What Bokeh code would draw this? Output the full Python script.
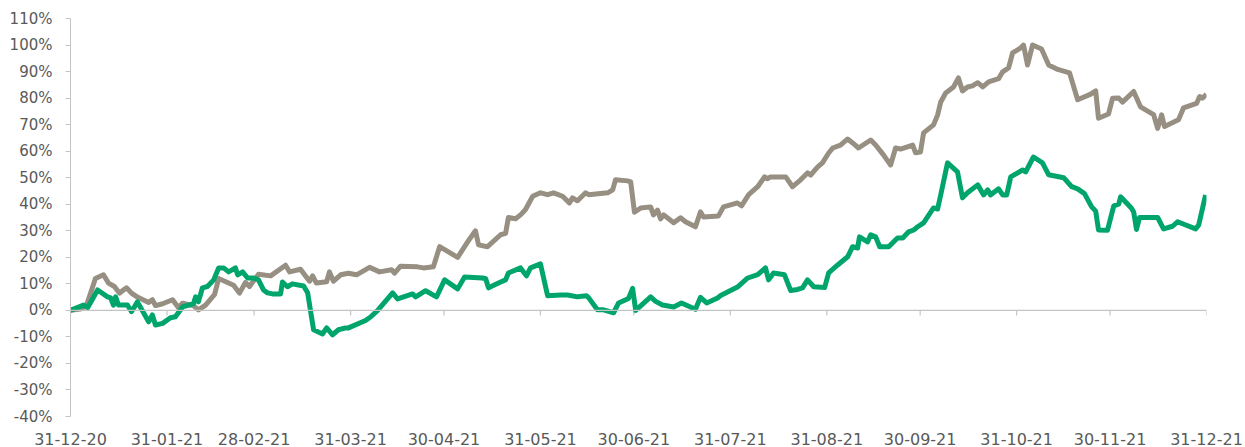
import pandas as pd
from bokeh.plotting import figure
from bokeh.models import Range1d, LinearAxis, FixedTicker, PrintfTickFormatter, Span
from bokeh.embed import file_html
from bokeh.resources import INLINE

# ---- data ----
START = "31-12-20"
TICK_LABELS = ["31-12-20", "31-01-21", "28-02-21", "31-03-21", "30-04-21", "31-05-21",
               "30-06-21", "31-07-21", "31-08-21", "30-09-21", "31-10-21", "30-11-21", "31-12-21"]

# days since 31-12-20, cumulative return in %
GRAY_DAYS = [0, 3.2, 5.1, 8.0, 10.6, 12.2, 14.1, 15.7, 18.0, 19.6, 21.5, 25.1, 26.3, 27.3, 29.6,
             32.8, 34.7, 36.0, 39.5, 41.1, 43.4, 46.3, 47.6, 52.4, 54.3, 56.2, 57.5, 60.4, 64.3,
             69.1, 70.4, 73.9, 76.8, 77.8, 79.0, 82.3, 83.2, 84.5, 86.8, 89.3, 91.9, 96.1, 99.3,
             103.2, 104.1, 106.0, 111.5, 113.4, 116.6, 118.6, 124.4, 127.6, 130.1, 131.1, 134.0,
             138.2, 139.8, 140.7, 143.0, 144.6, 146.2, 148.5, 151.0, 153.3, 155.2, 158.1, 160.3,
             161.3, 162.9, 165.5, 166.5, 172.6, 174.2, 175.1, 179.0, 180.0, 181.2, 183.2, 186.4,
             187.3, 188.6, 189.6, 190.6, 193.8, 196.0, 197.6, 200.8, 202.4, 203.4, 208.2, 209.8,
             214.3, 215.6, 217.9, 220.8, 223.0, 224.0, 224.9, 229.8, 232.0, 234.6, 236.8, 237.8,
             240.0, 241.6, 243.6, 244.9, 247.4, 249.7, 251.3, 253.2, 257.1, 258.7, 261.2, 263.5,
             265.1, 266.7, 270.6, 271.5, 273.1, 274.1, 277.3, 278.6, 279.6, 281.2, 283.7, 285.3,
             286.6, 288.2, 289.8, 291.5, 293.1, 295.0, 298.2, 299.5, 301.4, 302.7, 305.3, 306.2,
             307.5, 309.1, 312.0, 314.3, 317.2, 321.0, 323.6, 327.8, 329.4, 330.3, 333.5, 334.8,
             336.8, 338.0, 341.6, 343.8, 348.0, 349.3, 350.6, 351.5, 356.0, 357.6, 361.8, 362.8,
             363.7, 365.0]
GRAY_VALUES = [0, 0.5, 1.7, 12, 13.4, 10.3, 9, 6.5, 8.5, 6.5, 5, 3, 4, 1.8, 2.5,
               4, 1, 2.7, 1.8, 0.2, 2, 6, 12, 9.5, 6.5, 10.5, 9, 13.6, 13,
               17, 14.5, 15.5, 11, 13, 10.3, 10.8, 14.5, 11, 13.4, 14, 13.4, 16.2, 14.5,
               15.3, 14, 16.6, 16.4, 16, 16.4, 24, 20, 25.8, 30, 24.7, 24,
               28.5, 29, 35, 34.5, 36, 38, 43, 44.3, 43.6, 44.3, 43, 40.5,
               42.4, 41.3, 44.3, 43.6, 44.3, 45.4, 49.2, 48.8, 48.4, 37, 38.6, 39,
               36, 37.8, 34.5, 36, 33, 34.9, 33.4, 31.5, 37.1, 35.2, 35.6, 39,
               40.5, 39.4, 43.6, 46.6, 50.3, 49.6, 50.3, 50.3, 46.6, 49.2, 51.8, 51,
               54, 55.6, 59.3, 61.2, 62.3, 64.6, 63.1, 61.2, 64.2, 62.3, 58.6, 54.8,
               61.2, 60.8, 62.3, 59.4, 59.7, 66.9, 69.9, 73.6, 78.5, 81.9, 84.2, 87.6,
               82.7, 84.2, 84.6, 85.8, 84.2, 86.1, 87.3, 89.9, 91.4, 97, 98.9, 100,
               92.5, 100, 98.5, 92.5, 90.8, 89.5, 79.4, 81.5, 82.7, 72.4, 74, 79.9,
               80, 78.5, 82.5, 76.7, 73.8, 68.6, 73.7, 69.3, 71.8, 76.3, 78, 80.6,
               80, 81.4]

GREEN_DAYS = [0, 4.2, 5.5, 8.7, 11.9, 12.9, 13.8, 14.5, 15.4, 18.3, 19.6, 21.5, 25.1, 26.3,
              27.3, 29.6, 32.1, 33.7, 36.0, 39.5, 40.2, 41.1, 42.4, 44.0, 46.0, 47.6, 49.2,
              50.8, 53.0, 53.7, 55.3, 56.9, 58.8, 60.4, 62.0, 63.3, 64.9, 67.5, 68.1, 69.7,
              71.3, 74.9, 76.2, 77.1, 78.1, 81.0, 82.3, 84.2, 86.1, 88.4, 89.3, 94.8, 96.4,
              98.7, 103.5, 105.1, 109.9, 110.9, 114.1, 117.6, 120.2, 124.4, 126.6, 132.4,
              133.4, 134.3, 138.2, 139.8, 140.7, 144.6, 146.5, 147.8, 151.0, 153.3, 157.5,
              159.7, 162.9, 165.8, 166.5, 169.3, 171.3, 174.5, 176.1, 179.3, 180.6, 181.6,
              186.4, 188.0, 190.2, 193.8, 196.3, 200.8, 202.4, 204.4, 207.9, 208.9, 214.3,
              217.6, 220.8, 223.3, 224.3, 225.9, 229.4, 231.4, 233.6, 235.2, 236.8, 238.8,
              242.3, 243.6, 246.5, 249.7, 251.3, 252.9, 253.5, 256.1, 257.1, 258.7, 260.0,
              262.9, 265.7, 267.4, 269.3, 270.9, 272.2, 274.1, 277.3, 278.6, 279.6, 281.8,
              285.0, 286.6, 288.2, 291.5, 293.4, 294.7, 295.6, 298.2, 299.5, 300.8, 302.1,
              305.9, 306.9, 309.4, 312.3, 314.3, 319.1, 321.7, 323.6, 325.8, 328.1, 329.4,
              330.3, 333.2, 335.2, 336.8, 337.4, 340.9, 341.6, 342.5, 343.5, 349.3, 351.2,
              354.1, 355.7, 361.5, 362.5, 364.7]
GREEN_VALUES = [0, 2, 1, 7.7, 5.1, 4.7, 2, 5.1, 2, 2, -0.5, 3.2, -4.3, -1.7,
                -5.5, -4.9, -2.8, -2.4, 1.3, 2.5, 5.1, 3.2, 8.5, 9, 11.5, 16, 16,
                14.5, 16, 13.4, 14.5, 12.2, 12.2, 11.5, 7.7, 6.6, 6.2, 6.2, 10.7, 8.9,
                10, 9.2, 6.6, 0, -7.3, -8.9, -6.6, -9.2, -7.3, -6.6, -6.6, -3.8, -2.5,
                0, 6.6, 4.3, 6.2, 5.1, 7.4, 5.1, 11.5, 8.1, 12.6, 12.2,
                11.9, 8.5, 10.7, 11.5, 14.1, 16, 13, 16, 17.5, 5.5, 5.8,
                5.8, 5.1, 5.5, 4.7, 0.2, 0.2, -0.9, 2.8, 4.5, 8.3, 0,
                5.1, 3.4, 2, 1.3, 2.8, 0.4, 4.9, 2.8, 4.7, 5.6, 8.8,
                12.2, 13.5, 16, 11.5, 14.1, 13.4, 7.5, 7.9, 8.5, 11.5, 8.9,
                8.6, 14.1, 17.1, 20.2, 24, 23.5, 27.7, 25.8, 28.5, 27.7, 24,
                24, 27.3, 27.3, 29.6, 30.3, 31.5, 33, 38.6, 38.2, 43.5, 55.6,
                52.2, 42.4, 44.3, 47.3, 43.5, 45.4, 43.5, 45.8, 43.5, 43.5, 50.3,
                52.9, 52.2, 57.8, 55.6, 51.1, 50, 46.6, 45.8, 44, 39, 37.4,
                30.3, 30.2, 39.4, 40, 42.8, 38.5, 37.1, 30.5, 35, 35, 30.7,
                31.7, 33.4, 30.7, 32.2, 43.5]

# ---- styles ----
GRAY = "#968f82"
GREEN = "#00a56c"
AXIS = "#c4c4c4"
LABEL = "#595959"
FONT = "DejaVu Sans"
TICK_LEN = 1.9  # in y-units (about 5px)

start = pd.to_datetime(START, format="%d-%m-%y")
tick_pos = [int((pd.to_datetime(t, format="%d-%m-%y") - start).days) for t in TICK_LABELS]

p = figure(width=1245, height=447, output_backend="svg", toolbar_location=None,
           x_range=Range1d(0, tick_pos[-1]), y_range=Range1d(-40, 110),
           x_axis_location=None, y_axis_location=None,
           min_border_left=70, min_border_right=39, min_border_top=18, min_border_bottom=31)
p.outline_line_color = None
p.xgrid.visible = False
p.ygrid.visible = False
p.background_fill_color = "white"

# y axis
yax = LinearAxis(ticker=FixedTicker(ticks=list(range(-40, 111, 10))),
                 formatter=PrintfTickFormatter(format="%d%%"))
yax.axis_line_color = AXIS
yax.major_tick_line_color = AXIS
yax.major_tick_in = 0
yax.major_tick_out = 5
yax.minor_tick_line_color = None
yax.major_label_text_font = FONT
yax.major_label_text_font_size = "15px"
yax.major_label_text_color = LABEL
yax.major_label_standoff = 13
p.add_layout(yax, "left")

# x axis (labels at bottom)
xax = LinearAxis(ticker=FixedTicker(ticks=tick_pos),
                 major_label_overrides={tp: lbl for tp, lbl in zip(tick_pos, TICK_LABELS)})
xax.axis_line_color = None
xax.major_tick_line_color = None
xax.minor_tick_line_color = None
xax.major_label_text_font = FONT
xax.major_label_text_font_size = "16px"
xax.major_label_text_color = LABEL
xax.major_label_standoff = 10
p.add_layout(xax, "below")

# zero line with ticks
p.add_layout(Span(location=0, dimension="width", line_color=AXIS, line_width=1.2))
p.segment(x0=tick_pos, y0=[0] * len(tick_pos), x1=tick_pos, y1=[-TICK_LEN] * len(tick_pos),
          line_color=AXIS, line_width=1.2)

p.line(GRAY_DAYS, GRAY_VALUES, line_color=GRAY, line_width=5, line_join="round")
p.line(GREEN_DAYS, GREEN_VALUES, line_color=GREEN, line_width=5, line_join="round")

open("out.html", "w").write(file_html(p, INLINE))
